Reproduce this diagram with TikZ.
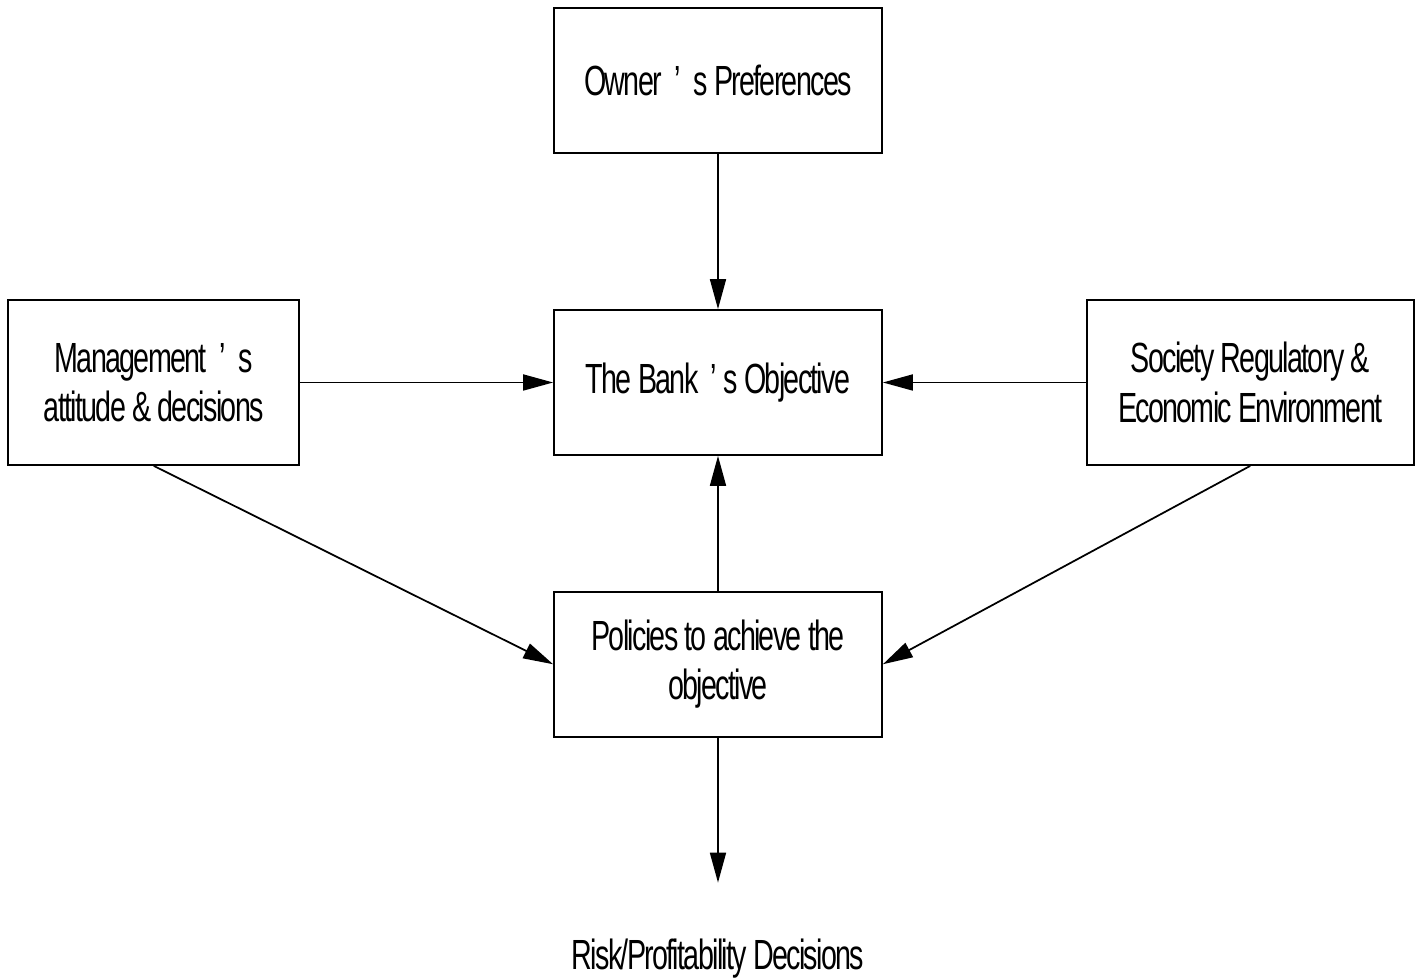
\documentclass[tikz,border=0pt]{standalone}
\usepackage{fontspec}
\setmainfont{Liberation Sans}[FakeStretch=0.68, LetterSpace=-4]
\usetikzlibrary{arrows.meta, positioning}

\begin{document}
\begin{tikzpicture}[
    >={Triangle[length=0.6cm, width=0.32cm]},
    box/.style={draw, line width=1pt, minimum width=6.56cm, minimum height=2.9cm,
                align=center, inner sep=2pt, font=\fontsize{24}{28}\selectfont},
    sidebox/.style={box, minimum height=3.3cm},
    arr/.style={->, line width=1pt},
]

% bounding box fixed to reference proportions
\useasboundingbox (-14.36,7.65) rectangle (14.04,-11.93);

\node[box] (bank) at (0,0) {The Bank ~’ s Objective};
\node[box, above=3.1cm of bank] (owner) {Owner ~’ ~s Preferences};
\node[box, below=2.7cm of bank] (policies) {Policies to achieve the\\objective};
\node[sidebox, minimum width=5.82cm, left=5.06cm of bank] (mgmt)
    {Management ~’ ~s\\attitude \& decisions};
\node[sidebox, minimum width=6.54cm, right=4.06cm of bank] (society)
    {Society Regulatory \&\\Economic Environment};

\coordinate (riskTip) at ([yshift=-2.9cm]policies.south);
\node[font=\fontsize{24}{28}\selectfont, below=1.0cm of riskTip] (risk)
    {Risk/Profitability Decisions};

\draw[arr] (owner) -- (bank);
\draw[arr] (mgmt) -- (bank);
\draw[arr] (society) -- (bank);
\draw[arr] (policies) -- (bank);
\draw[arr] (mgmt.south) -- (policies.west);
\draw[arr] (society.south) -- (policies.east);
\draw[arr] (policies) -- (riskTip);

\end{tikzpicture}
\end{document}
